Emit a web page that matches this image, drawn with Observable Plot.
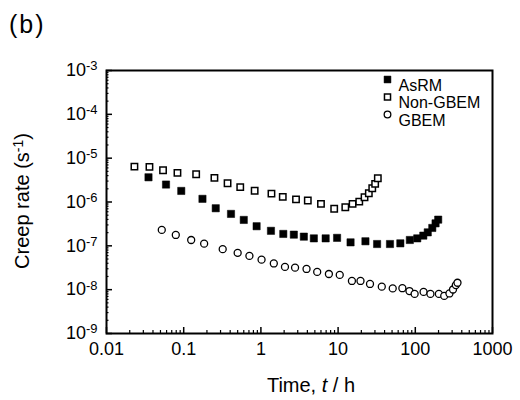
<!DOCTYPE html>
<html><head><meta charset="utf-8">
<script src="https://cdn.jsdelivr.net/npm/d3@7"></script>
<script src="https://cdn.jsdelivr.net/npm/@observablehq/plot@0.6"></script>
<style>
body{margin:0;background:#fff;}
#wrap{position:relative;width:520px;height:400px;}
</style></head><body><div id="wrap"></div>
<script>
// AsRM (filled squares)
const asrmTime = [0.035,0.059,0.093,0.175,0.26,0.41,0.60,0.88,1.35,1.95,2.67,3.6,4.85,6.9,9.7,14.5,22.6,32,47,64,85,106,127,145,166,183,198];
const asrmRate = [3.66e-6,2.50e-6,1.79e-6,1.18e-6,7.2e-7,5.35e-7,3.9e-7,2.8e-7,2.2e-7,1.87e-7,1.8e-7,1.62e-7,1.48e-7,1.48e-7,1.52e-7,1.2e-7,1.27e-7,1.1e-7,1.1e-7,1.14e-7,1.36e-7,1.48e-7,1.71e-7,2.03e-7,2.56e-7,3.26e-7,3.96e-7];
// Non-GBEM (open squares)
const nonTime = [0.023,0.036,0.054,0.083,0.145,0.25,0.37,0.54,0.83,1.37,1.92,2.85,4.05,6.0,8.9,12.4,15.4,18.8,22,25,27.7,30.2,32.7];
const nonRate = [6.43e-6,6.33e-6,5.29e-6,4.62e-6,4.29e-6,3.55e-6,2.67e-6,2.19e-6,1.80e-6,1.55e-6,1.31e-6,1.15e-6,1.08e-6,9.05e-7,7.0e-7,7.6e-7,9.05e-7,1.02e-6,1.28e-6,1.58e-6,2.06e-6,2.59e-6,3.48e-6];
// GBEM (open circles)
const gbemTime = [0.052,0.079,0.125,0.184,0.32,0.50,0.71,1.02,1.47,2.05,2.77,3.9,5.36,7.6,10.5,15.1,19.5,25.9,36.8,51,68,84,98,128,157,202,237,277,308,335,352];
const gbemRate = [2.31e-7,1.77e-7,1.36e-7,1.12e-7,8.4e-8,6.9e-8,5.9e-8,4.84e-8,3.96e-8,3.3e-8,3.18e-8,2.97e-8,2.54e-8,2.28e-8,2.17e-8,1.58e-8,1.58e-8,1.35e-8,1.17e-8,1.07e-8,1.08e-8,9.3e-9,8.0e-9,8.9e-9,8.0e-9,8.0e-9,7.2e-9,8.2e-9,1.01e-8,1.27e-8,1.44e-8];

const seriesNames = ["AsRM","Non-GBEM","GBEM"];
const xMajor = [0.01,0.1,1,10,100,1000];
const xTickLabels = ["0.01","0.1","1","10","100","1000"];
const yMajor = [1e-9,1e-8,1e-7,1e-6,1e-5,1e-4,1e-3];
const yExponents = ["-9","-8","-7","-6","-5","-4","-3"];
const panelLabel = "(b)";
const xTitle = ["Time, ", "t", " / h"];
const yTitle = ["Creep rate (s", "-1", ")"];

const minorOf = majors => majors.slice(0,-1).flatMap(m => [2,3,4,5,6,7,8,9].map(k => k*m));
const xMinor = minorOf(xMajor);
const yMinor = minorOf(yMajor);

const toRows = (t, r) => t.map((d,i) => ({time: d, rate: r[i]}));
const styles = [
  {symbol: "square", r: 4.1, fill: "black", stroke: "black", strokeWidth: 0.5},
  {symbol: "square", r: 3.6, fill: "white", stroke: "black", strokeWidth: 1.5},
  {symbol: "circle", r: 3.5, fill: "white", stroke: "black", strokeWidth: 1.3}
];
const font = "Liberation Sans, Arial, Helvetica, sans-serif";

const legendMarks = seriesNames.flatMap((name, i) => [
  Plot.dot([name], {frameAnchor: "top-right", dx: -105, dy: 9 + i*17.5, ...styles[i], r: styles[i].r*0.95}),
  Plot.text([name], {frameAnchor: "top-right", dx: -94, dy: 9 + i*17.5, text: d => d, textAnchor: "start", fontSize: 16, fill: "black"})
]);

const plot = Plot.plot({
  width: 520, height: 400,
  marginLeft: 106, marginRight: 28, marginTop: 70, marginBottom: 67,
  x: {type: "log", domain: [0.01, 1000]},
  y: {type: "log", domain: [1e-9, 1e-3]},
  style: {fontFamily: font, background: "white", color: "black", overflow: "visible"},
  marks: [
    Plot.axisX(xMinor, {tickSize: -3, fill: "none", label: null, strokeWidth: 1.2}),
    Plot.axisX(xMajor, {tickSize: -6, fill: "none", label: null, strokeWidth: 1.5}),
    Plot.axisX(xMajor, {tickSize: 0, tickPadding: 9, tickFormat: d => xTickLabels[xMajor.indexOf(d)], fontSize: 18, label: null}),
    Plot.axisY(yMinor, {tickSize: -2.5, fill: "none", label: null, strokeWidth: 1.2}),
    Plot.axisY(yMajor, {tickSize: -6, fill: "none", label: null, strokeWidth: 1.5}),
    Plot.axisY(yMajor, {tickSize: 0, tickPadding: 9, tickFormat: d => yExponents[yMajor.indexOf(d)], fontSize: 18, label: null}),
    Plot.frame({stroke: "black", strokeWidth: 2}),
    Plot.dot(toRows(gbemTime, gbemRate), {x: "time", y: "rate", ...styles[2]}),
    Plot.dot(toRows(nonTime, nonRate), {x: "time", y: "rate", ...styles[1]}),
    Plot.dot(toRows(asrmTime, asrmRate), {x: "time", y: "rate", ...styles[0]}),
    ...legendMarks
  ]
});

const svg = d3.select(plot);
svg.selectAll('g[aria-label="y-axis tick label"] text').each(function(){
  const e = this.textContent;
  const t = d3.select(this);
  t.text("10");
  t.append("tspan").attr("dy", "-0.45em").attr("font-size", "0.72em").text(e);
});

svg.append("text").attr("x", 9).attr("y", 33).attr("text-anchor", "start").attr("font-size", 25).attr("font-family", font)
  .attr("letter-spacing", 2).text(panelLabel);

const xt = svg.append("text").attr("x", 311).attr("y", 392).attr("text-anchor", "middle")
  .attr("font-size", 20).attr("font-family", font);
xt.append("tspan").text(xTitle[0]);
xt.append("tspan").attr("font-style", "italic").text(xTitle[1]);
xt.append("tspan").text(xTitle[2]);

const yt = svg.append("text").attr("transform", "translate(29,201) rotate(-90)").attr("text-anchor", "middle")
  .attr("font-size", 20).attr("font-family", font);
yt.append("tspan").text(yTitle[0]);
yt.append("tspan").attr("dy", "-0.45em").attr("font-size", "0.7em").text(yTitle[1]);
yt.append("tspan").attr("dy", "0.32em").text(yTitle[2]);

document.getElementById("wrap").appendChild(plot);
</script></body></html>
